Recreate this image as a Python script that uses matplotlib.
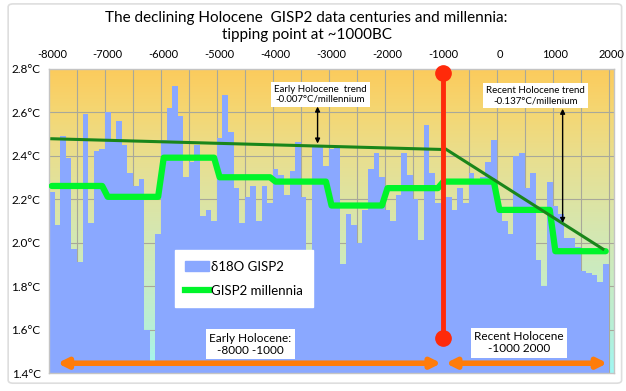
import numpy as np
import matplotlib
matplotlib.use("Agg")
import matplotlib.pyplot as plt
from matplotlib.colors import LinearSegmentedColormap
from matplotlib.lines import Line2D
from matplotlib.patches import Patch, FancyBboxPatch

plt.rcParams['font.family'] = ['Lato', 'DejaVu Sans']

# ── data ────────────────────────────────────────────────────
# century values of the d18O temperature proxy, -8000 .. 1900
century_years = list(range(-8000, 2000, 100))
d18o = [2.23, 2.08, 2.49, 2.39, 1.97, 1.91, 2.59, 2.09, 2.42, 2.43,
        2.60, 2.47, 2.56, 2.45, 2.32, 2.26, 2.29, 1.60, 1.45, 2.04,
        2.47, 2.62, 2.72, 2.58, 2.30, 2.37, 2.45, 2.12, 2.15, 2.10,
        2.48, 2.68, 2.51, 2.25, 2.09, 2.21, 2.26, 2.10, 2.26, 2.18,
        2.34, 2.31, 2.22, 2.33, 2.46, 2.21, 1.94, 2.45, 2.44, 2.35,
        2.43, 2.44, 1.90, 2.13, 2.08, 2.00, 2.15, 2.34, 2.41, 2.30,
        2.15, 2.10, 2.22, 2.41, 2.31, 2.20, 2.01, 2.54, 2.32, 2.18,
        2.29, 2.21, 2.15, 2.25, 2.18, 2.32, 2.29, 2.30, 2.37, 2.47,
        2.15, 2.10, 2.04, 2.40, 2.41, 2.25, 2.32, 1.92, 1.80, 2.28,
        2.17, 2.13, 2.02, 2.02, 1.98, 1.87, 1.86, 1.85, 1.82, 1.90]

# millennium means (each spans ten centuries)
millennia_start = list(range(-8000, 2000, 1000))
millennia_vals = [2.26, 2.21, 2.39, 2.30, 2.28, 2.17, 2.25, 2.28, 2.15, 1.96]

# trend lines
early_trend_x = [-8000, -1060]
early_trend_y = [2.477, 2.428]
recent_trend_x = [-950, 1850]
recent_trend_y = [2.428, 1.97]

top_ticks = list(range(-8000, 2001, 1000))
y_ticks = [1.4, 1.6, 1.8, 2.0, 2.2, 2.4, 2.6, 2.8]

# ── figure ──────────────────────────────────────────────────
fig = plt.figure(figsize=(6.26, 3.91), dpi=100)

# light outer frame around the whole chart
frame = FancyBboxPatch((0.013, 0.02), 0.98, 0.97, transform=fig.transFigure,
                       boxstyle="round,pad=0,rounding_size=0.008",
                       fc="none", ec="#dedede", lw=1.2, zorder=-1)
fig.patches.append(frame)

ax = fig.add_axes([0.0783, 0.046, 0.9027, 0.7788])

xmin, xmax = -8050, 2050
ymin, ymax = 1.4, 2.8

# background gradient
bg = LinearSegmentedColormap.from_list(
    "bg", [(0.0, "#9ff8f4"), (0.12, "#b4f0da"), (0.30, "#c8ecc4"),
           (0.50, "#d8e6ac"), (0.70, "#e8df90"), (0.85, "#f4d774"),
           (1.0, "#fccb5c")])
grad = np.linspace(0, 1, 256).reshape(-1, 1)
ax.imshow(grad, extent=[xmin, xmax, ymin, ymax], origin="lower",
          aspect="auto", cmap=bg, zorder=0)

# grid
for gx in np.arange(-7550, 2000, 500):
    ax.axvline(gx, color="#a8a89a", lw=0.8, zorder=1)
for gy in y_ticks[1:-1]:
    ax.axhline(gy, color="#a8a89a", lw=0.8, zorder=1)

# century bars
ax.bar(century_years, d18o, width=100, color="#8aa8ff",
       linewidth=0, zorder=2)

# millennia step line
mx, my = [], []
for start, val in zip(millennia_start, millennia_vals):
    mx += [start, start + 900]
    my += [val, val]
ax.plot(mx, my, color="#00f52a", lw=4.5, solid_capstyle="round",
        solid_joinstyle="round", zorder=4)

# trend lines
ax.plot(early_trend_x, early_trend_y, color="#1a861a", lw=2.2, zorder=5)
ax.plot(recent_trend_x, recent_trend_y, color="#1a861a", lw=2.2, zorder=5)

# tipping point
ax.plot([-1000, -1000], [1.56, 2.78], color="#ff2a0a", lw=3.5, zorder=6)
ax.plot([-1000, -1000], [1.56, 2.78], "o", color="#ff2a0a", ms=11,
        zorder=6, clip_on=False)

# black double arrows
ax.annotate("", xy=(-3250, 2.455), xytext=(-3250, 2.625),
            arrowprops=dict(arrowstyle="<|-|>", color="black", lw=1,
                            mutation_scale=7, shrinkA=0, shrinkB=0),
            zorder=7)
ax.annotate("", xy=(1130, 2.09), xytext=(1130, 2.615),
            arrowprops=dict(arrowstyle="<|-|>", color="black", lw=1,
                            mutation_scale=7, shrinkA=0, shrinkB=0),
            zorder=7)

box = dict(boxstyle="square,pad=0.3", fc="white", ec="none")
ax.text(-3200, 2.68, "Early Holocene  trend\n-0.007°C/millennium",
        ha="center", va="center", fontsize=7, bbox=box, zorder=8,
        linespacing=1.1)
ax.text(650, 2.675, "Recent Holocene trend\n-0.137°C/millenium",
        ha="center", va="center", fontsize=7, bbox=box, zorder=8,
        linespacing=1.1)

# period labels and orange arrows
ax.text(-4450, 1.533, "Early Holocene:\n-8000 -1000", ha="center",
        va="center", fontsize=8.5, bbox=box, zorder=8, linespacing=1.1)
ax.text(350, 1.54, "Recent Holocene\n-1000 2000", ha="center",
        va="center", fontsize=8.5, bbox=box, zorder=8, linespacing=1.1)
orange = dict(arrowstyle="<|-|>", color="#ff7c0a", lw=4,
              mutation_scale=14, shrinkA=0, shrinkB=0)
ax.annotate("", xy=(-7900, 1.445), xytext=(-1040, 1.445),
            arrowprops=orange, zorder=8)
ax.annotate("", xy=(-960, 1.445), xytext=(1930, 1.445),
            arrowprops=orange, zorder=8)

# legend
handles = [Patch(color="#8aa8ff", label="δ18O GISP2"),
           Line2D([], [], color="#00f52a", lw=4.5, label="GISP2 millennia")]
leg = ax.legend(handles=handles, loc="center",
                bbox_to_anchor=(0.345, 0.31), fontsize=9.5, frameon=True,
                fancybox=False, framealpha=1, edgecolor="white",
                handlelength=1.8, handletextpad=0.1, labelspacing=0.9,
                borderpad=0.8)
leg.set_zorder(9)

# axes
ax.set_xlim(xmin, xmax)
ax.set_ylim(ymin, ymax)
ax.xaxis.tick_top()
ax.set_xticks(top_ticks)
ax.set_xticklabels([str(t) for t in top_ticks], fontsize=8)
ax.set_yticks(y_ticks)
ax.set_yticklabels([f"{t:.1f}°C" for t in y_ticks], fontsize=8.5)
ax.tick_params(length=0, pad=6)
for s in ax.spines.values():
    s.set_color("#c4c4c4")
    s.set_linewidth(1)

fig.text(0.49, 0.955, "The declining Holocene  GISP2 data centuries and millennia:",
         ha="center", va="center", fontsize=11)
fig.text(0.49, 0.91, "tipping point at ~1000BC", ha="center", va="center",
         fontsize=11)

plt.savefig("out.png", dpi=100)
